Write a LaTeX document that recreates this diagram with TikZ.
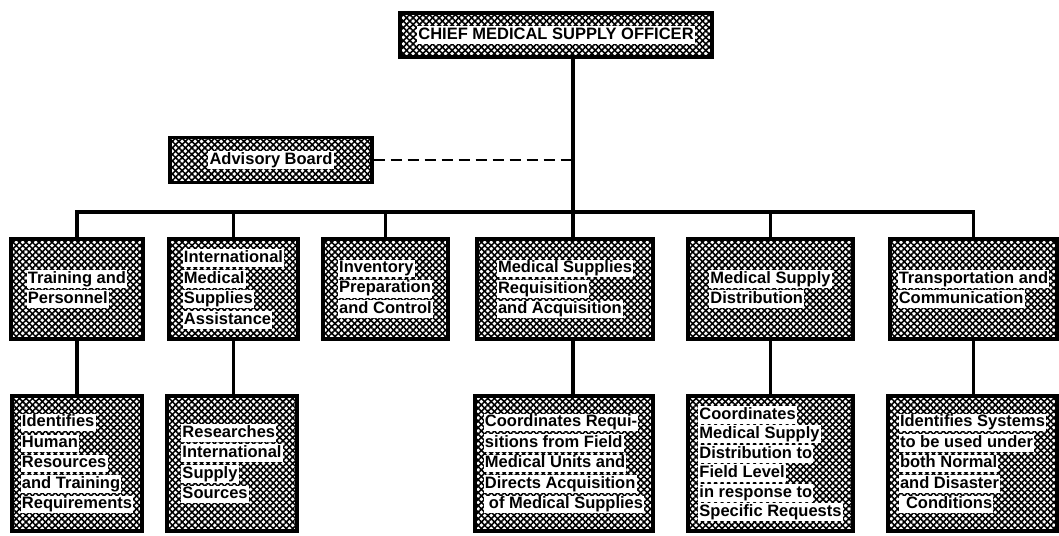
\documentclass[tikz,border=0pt]{standalone}
\usepackage{fontspec}
\setmainfont{Liberation Sans}
\usetikzlibrary{patterns.meta, positioning}
\setlength{\fboxsep}{1.2pt}
\newcommand{\wl}[1]{\colorbox{white}{#1\vphantom{Ay}}}
\tikzstyle{link} = [draw, line width=3.2pt]
\tikzstyle{mesh} = [pattern={Lines[angle=45,distance=4.6pt,line width=1.6pt]}, postaction={pattern={Lines[angle=-45,distance=4.6pt,line width=1.6pt]}}]
\tikzstyle{unit} = [draw, mesh, line width=3.4pt, align=left, inner sep=0pt, font=\fontsize{16.5}{20.5}\selectfont\bfseries]
\tikzstyle{upper} = [unit, minimum height=100pt]
\tikzstyle{lower} = [unit, minimum height=135pt, node distance=174.5pt]

\begin{document}
\begin{tikzpicture}[x=1pt, y=-1pt]
	\useasboundingbox (0,0) rectangle (1059,535);
	\node [unit, minimum width=312pt, minimum height=44pt] (chief) at (556,35) {\wl{CHIEF MEDICAL SUPPLY OFFICER}};
	\node [unit, minimum width=202pt, minimum height=45pt] (board) at (271,160) {\wl{Advisory Board}};
	\coordinate (bus) at (573,212);
	
	\node [upper, minimum width=132pt] (train) at (77,289) {\wl{Training and}\\\wl{Personnel}};
	\node [upper, minimum width=129pt] (intl) at (233.5,289) {\wl{International}\\\wl{Medical}\\\wl{Supplies}\\\wl{Assistance}};
	\node [upper, minimum width=125pt] (inv) at (385.5,289) {\wl{Inventory}\\\wl{Preparation}\\\wl{and Control}};
	\node [upper, minimum width=176pt] (req) at (565,289) {\wl{Medical Supplies}\\\wl{Requisition}\\\wl{and Acquisition}};
	\node [upper, minimum width=165pt] (dist) at (770.5,289) {\wl{Medical Supply}\\\wl{Distribution}};
	\node [upper, minimum width=167pt] (trans) at (973.5,289) {\wl{Transportation and}\\\wl{Communication}};
	
	\node [lower, below of=train, minimum width=130pt] (needs) {\wl{Identifies}\\\wl{Human}\\\wl{Resources}\\\wl{and Training}\\\wl{Requirements}};
	\node [lower, below of=intl, xshift=-1.5pt, minimum width=130pt] (sources) {\wl{Researches}\\\wl{International}\\\wl{Supply}\\\wl{Sources}};
	\node [lower, below of=req, xshift=-1pt, minimum width=178pt] (coord) {\wl{Coordinates Requi-}\\\wl{sitions from Field}\\\wl{Medical Units and}\\\wl{Directs Acquisition}\\\wl{\hspace*{4pt}of Medical Supplies}};
	\node [lower, below of=dist, minimum width=165pt, font=\fontsize{16.5}{19.5}\selectfont\bfseries] (field) {\wl{Coordinates}\\\wl{Medical Supply}\\\wl{Distribution to}\\\wl{Field Level}\\\wl{in response to}\\\wl{Specific Requests}};
	\node [lower, below of=trans, xshift=-1pt, minimum width=169pt] (systems) {\wl{Identifies Systems}\\\wl{to be used under}\\\wl{both Normal}\\\wl{and Disaster}\\\wl{\hspace*{6pt}Conditions}};
	
	\path [link] (chief.south -| bus) -- (req.north -| bus);
	\path [link] (train.north) |- (bus) -| (trans.north);
	\path [link] (intl.north) -- (intl.north |- bus);
	\path [link] (inv.north) -- (inv.north |- bus);
	\path [link] (dist.north) -- (dist.north |- bus);
	\path [link, line width=2.6pt, dash pattern=on 11pt off 6pt] (board.east) -- (board.east -| bus);
	
	\path [link] (train.south) -- (needs.north);
	\path [link] (intl.south) -- (sources.north -| intl.south);
	\path [link] (req.south -| bus) -- (coord.north -| bus);
	\path [link] (dist.south) -- (field.north);
	\path [link] (trans.south) -- (systems.north -| trans.south);
\end{tikzpicture}
\end{document}
